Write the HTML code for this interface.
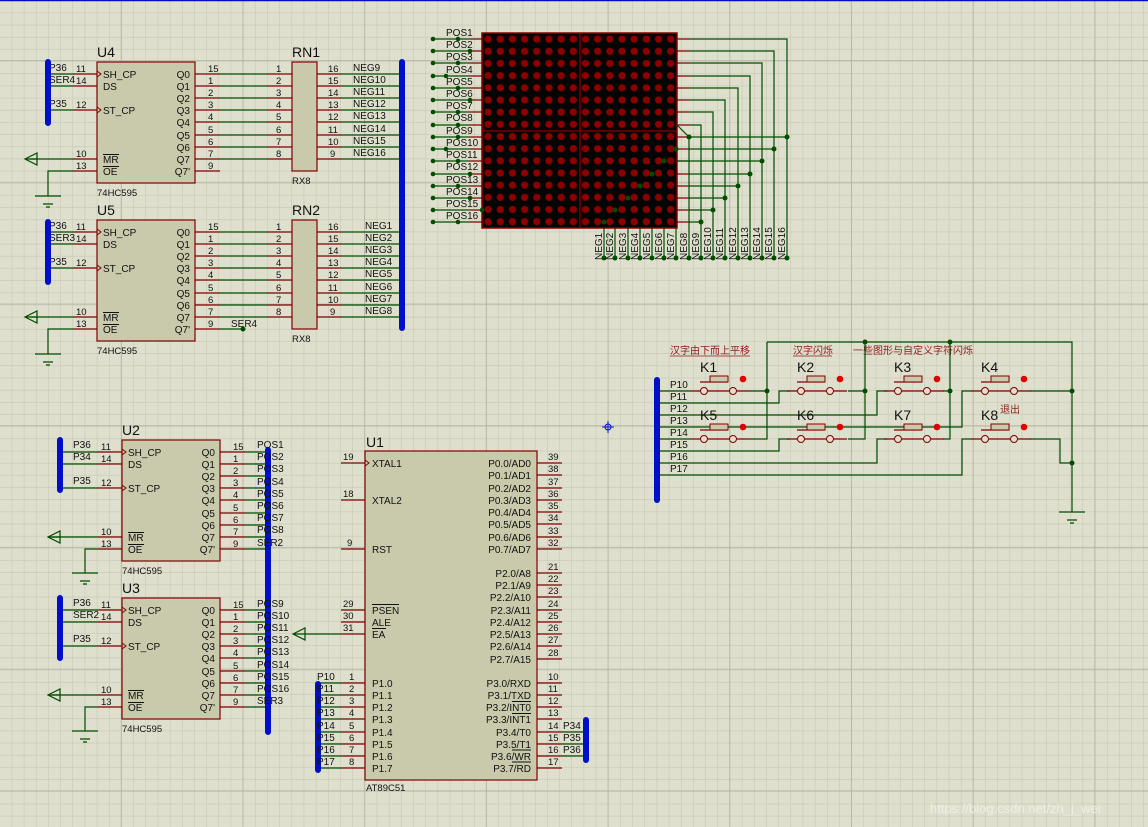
<!DOCTYPE html>
<html><head><meta charset="utf-8"><style>
html,body{margin:0;padding:0;background:#dfdfcd;}
svg{display:block;font-family:"Liberation Sans","Noto Sans CJK SC",sans-serif;}
.t{font-size:10px;fill:#111;}
.n{font-size:9.5px;fill:#111;}
.r{stroke:#800000;stroke-width:1.2;fill:none;}
.g{stroke:#004d00;stroke-width:1.2;fill:none;}
.b{stroke:#0010c8;stroke-width:6;stroke-linecap:round;fill:none;}
.chip{fill:#c9c9ab;stroke:#800000;stroke-width:1.2;}
.d{fill:#004d00;}
.big{font-size:14px;fill:#111;}
.cn{font-size:10px;fill:#8a2020;}
</style></head><body>
<svg width="1148" height="827" viewBox="0 0 1148 827" xmlns="http://www.w3.org/2000/svg">
<defs>
<pattern id="minor" x="0" y="1" width="12.17" height="12.17" patternUnits="userSpaceOnUse">
<path d="M12.17 0V12.17M0 12.17H12.17" stroke="#c6c6b5" stroke-width="1.1" fill="none"/></pattern>
<pattern id="major" x="0" y="61" width="121.7" height="121.7" patternUnits="userSpaceOnUse">
<path d="M121.7 0V121.7M0 121.7H121.7" stroke="#b2b2a0" stroke-width="1.6" fill="none"/></pattern>
<pattern id="leds" x="482" y="33" width="12.17" height="12.17" patternUnits="userSpaceOnUse">
<circle cx="6.1" cy="6.1" r="3.6" fill="#8c0000"/></pattern>
<g id="hc595">
<rect class="chip" x="0" y="0" width="98" height="121"/>
<path class="r" d="M-24 12H0M-24 24H0M-24 48H0M-24 97H0M-24 109H0"/>
<path class="r" d="M98 12H123M98 24H123M98 36H123M98 48H123M98 60H123M98 73H123M98 85H123M98 97H123M98 109H123"/>
<path d="M0 9L4 12L0 15M0 45L4 48L0 51" stroke="#800000" fill="none"/>
<g class="n"><text x="-21" y="10">11</text><text x="-21" y="22">14</text><text x="-21" y="46">12</text><text x="-21" y="95">10</text><text x="-21" y="107">13</text>
<text x="111" y="10">15</text><text x="111" y="22">1</text><text x="111" y="34">2</text><text x="111" y="46">3</text><text x="111" y="58">4</text><text x="111" y="71">5</text><text x="111" y="83">6</text><text x="111" y="95">7</text><text x="111" y="107">9</text></g>
<g class="t"><text x="6" y="16">SH_CP</text><text x="6" y="28">DS</text><text x="6" y="52">ST_CP</text><text x="6" y="101">MR</text><text x="6" y="113">OE</text>
<text x="93" y="16" text-anchor="end">Q0</text><text x="93" y="28" text-anchor="end">Q1</text><text x="93" y="40" text-anchor="end">Q2</text><text x="93" y="52" text-anchor="end">Q3</text><text x="93" y="64" text-anchor="end">Q4</text><text x="93" y="77" text-anchor="end">Q5</text><text x="93" y="89" text-anchor="end">Q6</text><text x="93" y="101" text-anchor="end">Q7</text><text x="93" y="113" text-anchor="end">Q7'</text>
<text x="0" y="134" font-size="9.5">74HC595</text></g>
<path d="M6 92.5H22M6 104.5H22" stroke="#111" stroke-width="1"/>
</g>
<g id="rn">
<rect class="chip" x="0" y="0" width="25" height="109"/>
<path class="r" d="M-24 12H0M-24 24H0M-24 36H0M-24 48H0M-24 60H0M-24 73H0M-24 85H0M-24 97H0M25 12H50M25 24H50M25 36H50M25 48H50M25 60H50M25 73H50M25 85H50M25 97H50"/>
<g class="n"><text x="-16" y="10">1</text><text x="-16" y="22">2</text><text x="-16" y="34">3</text><text x="-16" y="46">4</text><text x="-16" y="58">5</text><text x="-16" y="71">6</text><text x="-16" y="83">7</text><text x="-16" y="95">8</text>
<text x="36" y="10">16</text><text x="36" y="22">15</text><text x="36" y="34">14</text><text x="36" y="46">13</text><text x="36" y="58">12</text><text x="36" y="71">11</text><text x="36" y="83">10</text><text x="38" y="95">9</text>
<text x="0" y="122">RX8</text></g>
</g>
<g id="gnd"><path class="g" d="M-13 0H13M-5 8H5M-2 11H2"/></g>
<g id="tri"><path class="g" d="M0 0L12 -6V6Z M0 0H12"/></g>
</defs>
<rect width="1148" height="827" fill="#dfdfcd"/>
<rect width="1148" height="827" fill="url(#minor)"/>
<rect width="1148" height="827" fill="url(#major)"/>
<path d="M0 0.5H1148" stroke="#0010c8" stroke-width="1.5"/>

<!-- U4 / RN1 -->
<text class="big" x="97" y="57">U4</text>
<use href="#hc595" x="97" y="62"/>
<text class="big" x="292" y="57">RN1</text>
<use href="#rn" x="292" y="62"/>
<path class="g" d="M48 74H73M48 86H73M48 110H73M30 159H73M73 171H48V196"/>
<use href="#tri" x="25" y="159"/><use href="#gnd" x="48" y="196"/>
<path class="g" d="M220 74H268M220 86H268M220 98H268M220 110H268M220 122H268M220 135H268M220 147H268M220 159H268"/>
<path class="g" d="M342 74H402M342 86H402M342 98H402M342 110H402M342 122H402M342 135H402M342 147H402M342 159H402"/>
<g class="t"><text x="49" y="71">P36</text><text x="49" y="83">SER4</text><text x="49" y="107">P35</text>
<text x="353" y="71">NEG9</text><text x="353" y="83">NEG10</text><text x="353" y="95">NEG11</text><text x="353" y="107">NEG12</text><text x="353" y="119">NEG13</text><text x="353" y="132">NEG14</text><text x="353" y="144">NEG15</text><text x="353" y="156">NEG16</text></g>
<!-- U5 / RN2 -->
<text class="big" x="97" y="215">U5</text>
<use href="#hc595" x="97" y="220"/>
<text class="big" x="292" y="215">RN2</text>
<use href="#rn" x="292" y="220"/>
<path class="g" d="M48 232H73M48 244H73M48 268H73M30 317H73M73 329H48V354"/>
<use href="#tri" x="25" y="317"/><use href="#gnd" x="48" y="354"/>
<path class="g" d="M220 232H268M220 244H268M220 256H268M220 268H268M220 280H268M220 293H268M220 305H268M220 317H268M220 329H243"/>
<circle class="d" cx="243" cy="329" r="2.5"/>
<path class="g" d="M342 232H402M342 244H402M342 256H402M342 268H402M342 280H402M342 293H402M342 305H402M342 317H402"/>
<g class="t"><text x="49" y="229">P36</text><text x="49" y="241">SER3</text><text x="49" y="265">P35</text><text x="231" y="327">SER4</text>
<text x="365" y="229">NEG1</text><text x="365" y="241">NEG2</text><text x="365" y="253">NEG3</text><text x="365" y="265">NEG4</text><text x="365" y="277">NEG5</text><text x="365" y="290">NEG6</text><text x="365" y="302">NEG7</text><text x="365" y="314">NEG8</text></g>
<path class="b" d="M48 62V123M48 222V282M402 62V328"/>

<!-- U2 / U3 -->
<text class="big" x="122" y="435">U2</text>
<use href="#hc595" x="122" y="440"/>
<path class="g" d="M60 452H98M60 464H98M60 488H98M52 537H98M98 549H85V573"/>
<use href="#tri" x="48" y="537"/><use href="#gnd" x="85" y="573"/>
<path class="g" d="M245 452H268M245 464H268M245 476H268M245 488H268M245 500H268M245 513H268M245 525H268M245 537H268M245 549H268"/>
<text class="big" x="122" y="593">U3</text>
<use href="#hc595" x="122" y="598"/>
<path class="g" d="M60 610H98M60 622H98M60 646H98M52 695H98M98 707H85V731"/>
<use href="#tri" x="48" y="695"/><use href="#gnd" x="85" y="731"/>
<path class="g" d="M245 610H268M245 622H268M245 634H268M245 646H268M245 658H268M245 671H268M245 683H268M245 695H268M245 707H268"/>
<path class="b" d="M60 440V490M60 598V658M268 450V732"/>
<g class="t"><text x="73" y="448">P36</text><text x="73" y="460">P34</text><text x="73" y="484">P35</text>
<text x="73" y="606">P36</text><text x="73" y="618">SER2</text><text x="73" y="642">P35</text>
<text x="257" y="448">POS1</text><text x="257" y="460">POS2</text><text x="257" y="472">POS3</text><text x="257" y="485">POS4</text><text x="257" y="497">POS5</text><text x="257" y="509">POS6</text><text x="257" y="521">POS7</text><text x="257" y="533">POS8</text><text x="257" y="546">SER2</text>
<text x="257" y="607">POS9</text><text x="257" y="619">POS10</text><text x="257" y="631">POS11</text><text x="257" y="643">POS12</text><text x="257" y="655">POS13</text><text x="257" y="668">POS14</text><text x="257" y="680">POS15</text><text x="257" y="692">POS16</text><text x="257" y="704">SER3</text></g>

<!-- U1 -->
<text class="big" x="366" y="447">U1</text>
<rect class="chip" x="365" y="451" width="172" height="329"/>
<path class="r" d="M341 463H365M341 500H365M341 549H365M341 610H365M341 622H365M341 634H365M341 683H365M341 695H365M341 707H365M341 719H365M341 732H365M341 744H365M341 756H365M341 768H365"/>
<path class="r" d="M537 463H562M537 475H562M537 488H562M537 500H562M537 512H562M537 524H562M537 537H562M537 549H562M537 573H562M537 585H562M537 597H562M537 610H562M537 622H562M537 634H562M537 646H562M537 659H562M537 683H562M537 695H562M537 707H562M537 719H562M537 732H562M537 744H562M537 756H562M537 768H562"/>
<path d="M365 460L369 463L365 466" stroke="#800000" fill="none"/>
<path class="g" d="M305 634H341M318 683H341M318 695H341M318 707H341M318 719H341M318 732H341M318 744H341M318 756H341M318 768H341M562 732H586M562 744H586M562 756H586"/>
<use href="#tri" x="293" y="634"/>
<path class="b" d="M318 684V770M586 720V760"/>
<g class="n"><text x="343" y="460">19</text><text x="343" y="497">18</text><text x="347" y="546">9</text><text x="343" y="607">29</text><text x="343" y="619">30</text><text x="343" y="631">31</text>
<text x="349" y="680">1</text><text x="349" y="692">2</text><text x="349" y="704">3</text><text x="349" y="716">4</text><text x="349" y="729">5</text><text x="349" y="741">6</text><text x="349" y="753">7</text><text x="349" y="765">8</text>
<text x="548" y="460">39</text><text x="548" y="472">38</text><text x="548" y="485">37</text><text x="548" y="497">36</text><text x="548" y="509">35</text><text x="548" y="521">34</text><text x="548" y="534">33</text><text x="548" y="546">32</text>
<text x="548" y="570">21</text><text x="548" y="582">22</text><text x="548" y="594">23</text><text x="548" y="607">24</text><text x="548" y="619">25</text><text x="548" y="631">26</text><text x="548" y="643">27</text><text x="548" y="656">28</text>
<text x="548" y="680">10</text><text x="548" y="692">11</text><text x="548" y="704">12</text><text x="548" y="716">13</text><text x="548" y="729">14</text><text x="548" y="741">15</text><text x="548" y="753">16</text><text x="548" y="765">17</text></g>
<g class="t"><text x="372" y="467">XTAL1</text><text x="372" y="504">XTAL2</text><text x="372" y="553">RST</text><text x="372" y="614">PSEN</text><text x="372" y="626">ALE</text><text x="372" y="638">EA</text>
<text x="372" y="687">P1.0</text><text x="372" y="699">P1.1</text><text x="372" y="711">P1.2</text><text x="372" y="723">P1.3</text><text x="372" y="736">P1.4</text><text x="372" y="748">P1.5</text><text x="372" y="760">P1.6</text><text x="372" y="772">P1.7</text>
<g text-anchor="end"><text x="531" y="467">P0.0/AD0</text><text x="531" y="479">P0.1/AD1</text><text x="531" y="492">P0.2/AD2</text><text x="531" y="504">P0.3/AD3</text><text x="531" y="516">P0.4/AD4</text><text x="531" y="528">P0.5/AD5</text><text x="531" y="541">P0.6/AD6</text><text x="531" y="553">P0.7/AD7</text>
<text x="531" y="577">P2.0/A8</text><text x="531" y="589">P2.1/A9</text><text x="531" y="601">P2.2/A10</text><text x="531" y="614">P2.3/A11</text><text x="531" y="626">P2.4/A12</text><text x="531" y="638">P2.5/A13</text><text x="531" y="650">P2.6/A14</text><text x="531" y="663">P2.7/A15</text>
<text x="531" y="687">P3.0/RXD</text><text x="531" y="699">P3.1/TXD</text><text x="531" y="711">P3.2/INT0</text><text x="531" y="723">P3.3/INT1</text><text x="531" y="736">P3.4/T0</text><text x="531" y="748">P3.5/T1</text><text x="531" y="760">P3.6/WR</text><text x="531" y="772">P3.7/RD</text></g>
<text x="366" y="791" font-size="9.5">AT89C51</text>
<text x="317" y="680">P10</text><text x="317" y="692">P11</text><text x="317" y="704">P12</text><text x="317" y="716">P13</text><text x="317" y="729">P14</text><text x="317" y="741">P15</text><text x="317" y="753">P16</text><text x="317" y="765">P17</text>
<text x="563" y="729">P34</text><text x="563" y="741">P35</text><text x="563" y="753">P36</text></g>
<path d="M372 604.5H399M372 628.5H386M512 701.5H531M512 713.5H531M512 750H531M512 762H531" stroke="#111" stroke-width="1"/>

<!-- LED matrix -->
<rect x="482" y="33" width="195" height="195" fill="#050505" stroke="#8c0000" stroke-width="1.5"/>
<rect x="482" y="33" width="195" height="195" fill="url(#leds)"/>
<path d="M580 33V228M482 131H677" stroke="#8c0000" stroke-width="1.2"/>
<path class="g" d="M433 39H470M433 51H470M433 63H470M433 76H470M433 88H470M433 100H470M433 112H470M433 125H470M433 137H470M433 149H470M433 161H470M433 174H470M433 186H470M433 198H470M433 210H470M433 222H470"/>
<path class="r" d="M470 39H482M470 51H482M470 63H482M470 76H482M470 88H482M470 100H482M470 112H482M470 125H482M470 137H482M470 149H482M470 161H482M470 174H482M470 186H482M470 198H482M470 210H482M470 222H482"/>
<g class="d">
<circle cx="433" cy="39" r="2.3"/><circle cx="433" cy="51" r="2.3"/><circle cx="433" cy="63" r="2.3"/><circle cx="433" cy="76" r="2.3"/><circle cx="433" cy="88" r="2.3"/><circle cx="433" cy="100" r="2.3"/><circle cx="433" cy="112" r="2.3"/><circle cx="433" cy="125" r="2.3"/><circle cx="433" cy="137" r="2.3"/><circle cx="433" cy="149" r="2.3"/><circle cx="433" cy="161" r="2.3"/><circle cx="433" cy="174" r="2.3"/><circle cx="433" cy="186" r="2.3"/><circle cx="433" cy="198" r="2.3"/><circle cx="433" cy="210" r="2.3"/><circle cx="433" cy="222" r="2.3"/>
<circle cx="458" cy="39" r="2.3"/><circle cx="470" cy="51" r="2.3"/><circle cx="458" cy="63" r="2.3"/><circle cx="446" cy="76" r="2.3"/><circle cx="458" cy="88" r="2.3"/><circle cx="470" cy="100" r="2.3"/><circle cx="458" cy="112" r="2.3"/><circle cx="458" cy="125" r="2.3"/><circle cx="458" cy="137" r="2.3"/><circle cx="446" cy="149" r="2.3"/><circle cx="458" cy="161" r="2.3"/><circle cx="470" cy="174" r="2.3"/><circle cx="458" cy="186" r="2.3"/><circle cx="470" cy="198" r="2.3"/><circle cx="482" cy="210" r="2.3"/><circle cx="458" cy="222" r="2.3"/>
</g>
<g class="t"><text x="446" y="36">POS1</text><text x="446" y="48">POS2</text><text x="446" y="60">POS3</text><text x="446" y="73">POS4</text><text x="446" y="85">POS5</text><text x="446" y="97">POS6</text><text x="446" y="109">POS7</text><text x="446" y="121">POS8</text><text x="446" y="134">POS9</text><text x="446" y="146">POS10</text><text x="446" y="158">POS11</text><text x="446" y="170">POS12</text><text x="446" y="183">POS13</text><text x="446" y="195">POS14</text><text x="446" y="207">POS15</text><text x="446" y="219">POS16</text></g>
<path class="r" d="M677 39H690M677 51H690M677 63H690M677 76H690M677 88H690M677 100H690M677 112H690M677 125H690M677 137H690M677 149H690M677 161H690M677 174H690M677 186H690M677 198H690M677 210H690M677 222H690"/>
<path class="g" d="M690 39H787V258M690 51H774V258M690 63H762V258M690 76H750V258M690 88H738V258M690 100H725V258M690 112H713V258M690 125H701V258M677 125L689 137V258M689 137H787M690 149H774M677 161H762M690 174H750M690 186H738M690 198H725M690 210H713M690 222H701"/>
<path class="g" d="M604 228V258M615 228V258M628 228V258M640 228V258M652 228V258M664 228V258M676 228V258"/>
<g class="d">
<circle cx="689" cy="137" r="2.5"/><circle cx="787" cy="137" r="2.5"/><circle cx="676" cy="149" r="2.5"/><circle cx="774" cy="149" r="2.5"/><circle cx="664" cy="161" r="2.5"/><circle cx="762" cy="161" r="2.5"/><circle cx="652" cy="174" r="2.5"/><circle cx="750" cy="174" r="2.5"/><circle cx="640" cy="186" r="2.5"/><circle cx="738" cy="186" r="2.5"/><circle cx="628" cy="198" r="2.5"/><circle cx="725" cy="198" r="2.5"/><circle cx="615" cy="210" r="2.5"/><circle cx="713" cy="210" r="2.5"/><circle cx="604" cy="222" r="2.5"/><circle cx="701" cy="222" r="2.5"/>
<circle cx="604" cy="258" r="2.5"/><circle cx="615" cy="258" r="2.5"/><circle cx="628" cy="258" r="2.5"/><circle cx="640" cy="258" r="2.5"/><circle cx="652" cy="258" r="2.5"/><circle cx="664" cy="258" r="2.5"/><circle cx="676" cy="258" r="2.5"/><circle cx="689" cy="258" r="2.5"/><circle cx="701" cy="258" r="2.5"/><circle cx="713" cy="258" r="2.5"/><circle cx="725" cy="258" r="2.5"/><circle cx="738" cy="258" r="2.5"/><circle cx="750" cy="258" r="2.5"/><circle cx="762" cy="258" r="2.5"/><circle cx="774" cy="258" r="2.5"/><circle cx="787" cy="258" r="2.5"/>
</g>
<g class="t" font-size="9.5">
<text transform="translate(602,260) rotate(-90)">NEG1</text><text transform="translate(613,260) rotate(-90)">NEG2</text><text transform="translate(626,260) rotate(-90)">NEG3</text><text transform="translate(638,260) rotate(-90)">NEG4</text><text transform="translate(650,260) rotate(-90)">NEG5</text><text transform="translate(662,260) rotate(-90)">NEG6</text><text transform="translate(674,260) rotate(-90)">NEG7</text><text transform="translate(687,260) rotate(-90)">NEG8</text><text transform="translate(699,260) rotate(-90)">NEG9</text><text transform="translate(711,260) rotate(-90)">NEG10</text><text transform="translate(723,260) rotate(-90)">NEG11</text><text transform="translate(736,260) rotate(-90)">NEG12</text><text transform="translate(748,260) rotate(-90)">NEG13</text><text transform="translate(760,260) rotate(-90)">NEG14</text><text transform="translate(772,260) rotate(-90)">NEG15</text><text transform="translate(785,260) rotate(-90)">NEG16</text>
</g>

<!-- crosshair -->
<path d="M602 427H614M608 421V433" stroke="#0010c8" stroke-width="1"/><circle cx="608" cy="427" r="3" fill="none" stroke="#0010c8"/>

<!-- Keys -->
<g class="cn"><text x="670" y="354">汉字由下而上平移</text><text x="793" y="354">汉字闪烁</text><text x="853" y="354">一些图形与自定义字符闪烁</text><text x="1000" y="413">退出</text></g>
<path d="M670 356H750M793 356H832" stroke="#8a2020" stroke-width="0.8"/>
<path class="g" d="M657 391H690M657 403H779V391H790M657 415H877V391H887M657 427H962V391H972M657 439H690M657 451H779V439H790M657 463H877V439H887M657 475H962V439H972"/>
<path class="g" d="M750 391H767M767 342V439H750M767 342H1072V512M848 391H865M865 342V439H848M943 391H950M950 342V439H943M1030 391H1072M1030 439H1060V463H1072"/>
<g class="d"><circle cx="767" cy="391" r="2.5"/><circle cx="865" cy="391" r="2.5"/><circle cx="950" cy="391" r="2.5"/><circle cx="1072" cy="391" r="2.5"/><circle cx="865" cy="342" r="2.5"/><circle cx="950" cy="342" r="2.5"/><circle cx="1072" cy="463" r="2.5"/></g>
<use href="#gnd" x="1072" y="512"/>
<g id="keys">
<g id="k1">
<path class="r" d="M690 391H700M708 391H729M737 391H750M700 382H728"/>
<rect x="710" y="376" width="18" height="6" fill="#c9c9ab" stroke="#800000"/>
<circle cx="704" cy="391" r="3.5" fill="#dfdfcd" stroke="#800000"/><circle cx="733" cy="391" r="3.5" fill="#dfdfcd" stroke="#800000"/>
<circle cx="743" cy="379" r="3.3" fill="#e00000"/>
</g>
<use href="#k1" x="97"/><use href="#k1" x="194"/><use href="#k1" x="281"/>
<use href="#k1" y="48"/><use href="#k1" x="97" y="48"/><use href="#k1" x="194" y="48"/><use href="#k1" x="281" y="48"/>
</g>
<g class="big"><text x="700" y="372">K1</text><text x="797" y="372">K2</text><text x="894" y="372">K3</text><text x="981" y="372">K4</text>
<text x="700" y="420">K5</text><text x="797" y="420">K6</text><text x="894" y="420">K7</text><text x="981" y="420">K8</text></g>
<path class="b" d="M657 380V500"/>
<g class="t"><text x="670" y="388">P10</text><text x="670" y="400">P11</text><text x="670" y="412">P12</text><text x="670" y="424">P13</text><text x="670" y="436">P14</text><text x="670" y="448">P15</text><text x="670" y="460">P16</text><text x="670" y="472">P17</text></g>

<text x="930" y="813" font-size="13" fill="#f2f2ea" fill-opacity="0.85">https://blog.csdn.net/zh_j_wei</text>
</svg>
</body></html>
